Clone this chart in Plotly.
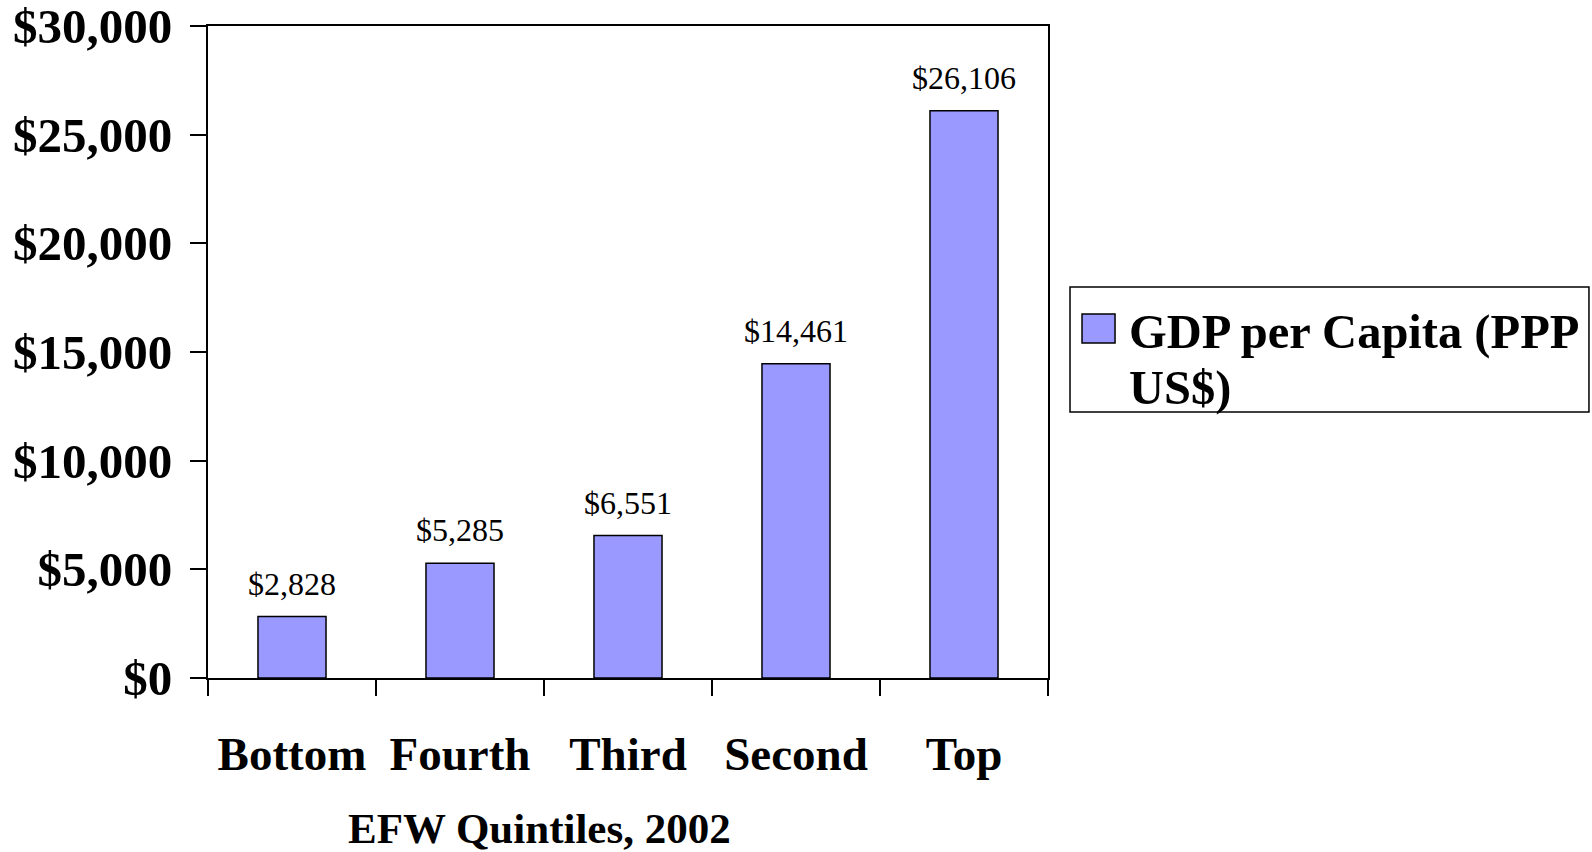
import plotly.graph_objects as go

categories = ["Bottom", "Fourth", "Third", "Second", "Top"]
gdp_values = [2828, 5285, 6551, 14461, 26106]
series_name_lines = ["GDP per Capita (PPP", "US$)"]
x_title = "EFW Quintiles, 2002"
y_ticks = [0, 5000, 10000, 15000, 20000, 25000, 30000]

FONT = "Liberation Serif, Times New Roman, serif"
BAR_COLOR = "#9999FF"

fig = go.Figure()
fig.add_trace(go.Bar(
    x=categories, y=gdp_values, name=" ".join(series_name_lines),
    marker=dict(color=BAR_COLOR, line=dict(color="black", width=1.5)),
    width=0.405, showlegend=False,
))

# data labels
for c, v in zip(categories, gdp_values):
    fig.add_annotation(x=c, y=v, xref="x", yref="y", text=f"${v:,}",
                       showarrow=False, yanchor="bottom", yshift=13,
                       font=dict(family=FONT, size=32, color="black"))

# x-axis title
fig.add_annotation(x=0.395, y=-0.2305, xref="paper", yref="paper", text=x_title,
                   showarrow=False, xanchor="center", yanchor="middle",
                   font=dict(family=FONT, size=43, color="black", weight="bold"))

# legend (manual, for large marker)
fig.add_shape(type="rect", xref="paper", yref="paper",
              x0=1.0262, x1=1.644, y0=0.408, y1=0.5997,
              line=dict(color="black", width=1.5), fillcolor="white")
fig.add_shape(type="rect", xref="paper", yref="paper",
              x0=1.0405, x1=1.0798, y0=0.5138, y1=0.5583,
              line=dict(color="black", width=1.5), fillcolor=BAR_COLOR)
for line_txt, yy in zip(series_name_lines, [0.5307, 0.4448]):
    fig.add_annotation(x=1.094, y=yy, xref="paper", yref="paper", text=line_txt,
                       showarrow=False, xanchor="left", yanchor="middle", align="left",
                       font=dict(family=FONT, size=48.5, color="black", weight="bold"))

fig.update_layout(
    width=1592, height=852,
    margin=dict(l=208, r=544, t=26, b=174, autoexpand=False),
    paper_bgcolor="white", plot_bgcolor="white",
    font=dict(family=FONT, color="black"),
    bargap=0.595,
)
fig.update_xaxes(
    type="category", range=[-0.5, 4.5], automargin=False,
    showline=True, linecolor="black", linewidth=2, mirror=True,
    ticks="outside", tickson="boundaries", ticklen=16, tickwidth=2, tickcolor="black",
    showgrid=False, zeroline=False, ticklabeloverflow="allow",
    tickfont=dict(family=FONT, size=47, color="black", weight="bold"),
    ticklabelstandoff=34,
)
fig.update_yaxes(
    range=[0, 30000], tickmode="array", tickvals=y_ticks, automargin=False,
    ticktext=[f"${t:,}" for t in y_ticks],
    showline=True, linecolor="black", linewidth=2, mirror=True,
    ticks="outside", ticklen=16, tickwidth=2, tickcolor="black",
    showgrid=False, zeroline=False, ticklabeloverflow="allow",
    tickfont=dict(family=FONT, size=49, color="black", weight="bold"),
    ticklabelstandoff=8,
)

fig.write_html(
    "out.html",
    config={"displayModeBar": False},
    post_script="document.body.style.margin='0px';document.body.style.overflow='hidden';",
)
